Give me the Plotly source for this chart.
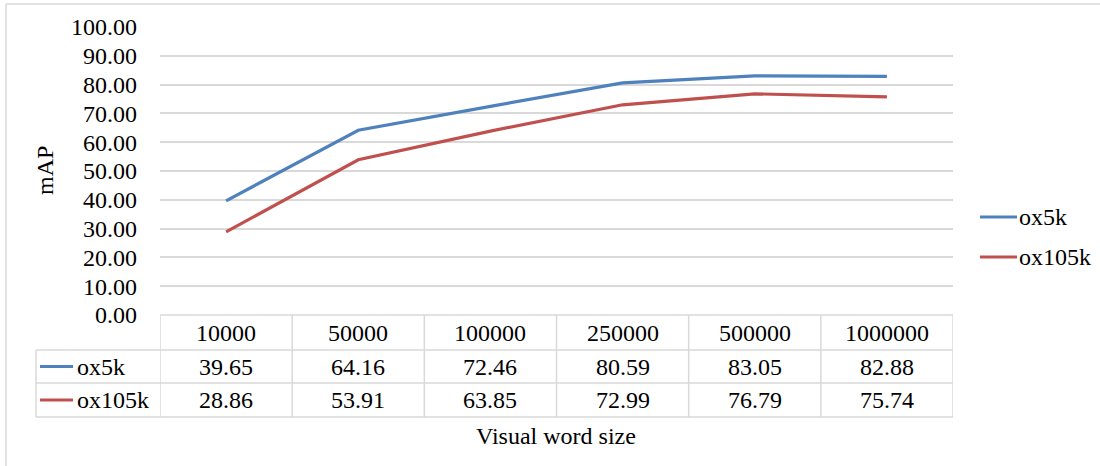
import plotly.graph_objects as go

# Vocabulary sizes and retrieval accuracy (mAP) per dataset
vocab_sizes = ["10000", "50000", "100000", "250000", "500000", "1000000"]
series_names = ["ox5k", "ox105k"]
map_ox5k = [39.65, 64.16, 72.46, 80.59, 83.05, 82.88]
map_ox105k = [28.86, 53.91, 63.85, 72.99, 76.79, 75.74]
y_ticks = [0, 10, 20, 30, 40, 50, 60, 70, 80, 90, 100]

series_values = [map_ox5k, map_ox105k]
colors = ["#4F81BD", "#C0504D"]
grid_color = "#D9D9D9"
font_family = "Liberation Serif, Times New Roman, serif"
fs = 24

W, H = 1100, 466


def px(x):
    return x / W


def py(y):
    return 1 - y / H


# plot area in pixels
X0, X1 = 160, 953
Y_TOP, Y_ZERO = 27, 315

fig = go.Figure()
n = len(vocab_sizes)
xs = list(range(n))
for name, vals, col in zip(series_names, series_values, colors):
    fig.add_trace(go.Scatter(
        x=xs, y=vals, mode="lines", name=name,
        line=dict(color=col, width=3.2), showlegend=False,
        hoverinfo="x+y",
    ))

shapes = []
annotations = []

# outer chart border (top and left edges visible)
shapes.append(dict(type="line", xref="paper", yref="paper",
                   x0=px(6), x1=px(1100), y0=py(4), y1=py(4),
                   line=dict(color=grid_color, width=1.5)))
shapes.append(dict(type="line", xref="paper", yref="paper",
                   x0=px(6), x1=px(6), y0=py(4), y1=py(466),
                   line=dict(color=grid_color, width=1.5)))

# data table under the plot
row_tops = [315, 350, 383, 417]
label_left = 36
# horizontal rules
shapes.append(dict(type="line", xref="paper", yref="paper",
                   x0=px(X0), x1=px(X1), y0=py(row_tops[0]), y1=py(row_tops[0]),
                   line=dict(color=grid_color, width=1.5)))
for yy in row_tops[1:]:
    shapes.append(dict(type="line", xref="paper", yref="paper",
                       x0=px(label_left), x1=px(X1), y0=py(yy), y1=py(yy),
                       line=dict(color=grid_color, width=1.5)))
# vertical rules
shapes.append(dict(type="line", xref="paper", yref="paper",
                   x0=px(label_left), x1=px(label_left), y0=py(row_tops[1]), y1=py(row_tops[3]),
                   line=dict(color=grid_color, width=1.5)))
for i in range(n + 1):
    shapes.append(dict(type="line", xref="x", yref="paper",
                       x0=i - 0.5, x1=i - 0.5, y0=py(row_tops[0]), y1=py(row_tops[3]),
                       line=dict(color=grid_color, width=1.5)))

# header row: category labels
hdr_c = (row_tops[0] + row_tops[1]) / 2
for i, lab in enumerate(vocab_sizes):
    annotations.append(dict(x=i, y=py(hdr_c), xref="x", yref="paper", text=lab,
                            showarrow=False, font=dict(size=fs, color="#000000", family=font_family),
                            xanchor="center", yanchor="middle"))

# value rows with legend keys
for r, (name, vals, col) in enumerate(zip(series_names, series_values, colors)):
    yc = (row_tops[r + 1] + row_tops[r + 2]) / 2
    shapes.append(dict(type="line", xref="paper", yref="paper",
                       x0=px(40), x1=px(73), y0=py(yc), y1=py(yc),
                       line=dict(color=col, width=3.2)))
    annotations.append(dict(x=px(75), y=py(yc), xref="paper", yref="paper", text=name,
                            showarrow=False, font=dict(size=fs, color="#000000", family=font_family),
                            xanchor="left", yanchor="middle"))
    for i, v in enumerate(vals):
        annotations.append(dict(x=i, y=py(yc), xref="x", yref="paper", text=f"{v:.2f}",
                                showarrow=False, font=dict(size=fs, color="#000000", family=font_family),
                                xanchor="center", yanchor="middle"))

# legend on the right
for name, col, yy in zip(series_names, colors, [217, 257]):
    shapes.append(dict(type="line", xref="paper", yref="paper",
                       x0=px(980), x1=px(1017), y0=py(yy), y1=py(yy),
                       line=dict(color=col, width=3.2)))
    annotations.append(dict(x=px(1017), y=py(yy), xref="paper", yref="paper", text=name,
                            showarrow=False, font=dict(size=fs, color="#000000", family=font_family),
                            xanchor="left", yanchor="middle"))

# axis titles
annotations.append(dict(x=px(45), y=py(171), xref="paper", yref="paper", text="mAP",
                        textangle=-90, showarrow=False,
                        font=dict(size=fs, color="#000000", family=font_family),
                        xanchor="center", yanchor="middle"))
annotations.append(dict(x=px(556), y=py(436), xref="paper", yref="paper", text="Visual word size",
                        showarrow=False, font=dict(size=fs, color="#000000", family=font_family),
                        xanchor="center", yanchor="middle"))

fig.update_layout(
    width=W, height=H,
    margin=dict(l=0, r=0, t=0, b=0, pad=0, autoexpand=False),
    paper_bgcolor="#FFFFFF", plot_bgcolor="#FFFFFF",
    font=dict(family=font_family, size=fs, color="#000000"),
    xaxis=dict(domain=[px(X0), px(X1)], range=[-0.5, n - 0.5],
               showticklabels=False, showgrid=False, zeroline=False,
               showline=False, ticks="", automargin=False),
    yaxis=dict(domain=[py(Y_ZERO), py(Y_TOP)], range=[0, 100],
               tickvals=y_ticks, tickformat=".2f",
               showgrid=True, gridcolor=grid_color, gridwidth=1.5,
               zeroline=False, showline=False, ticks="", automargin=False,
               ticklabelstandoff=22,
               tickfont=dict(size=fs, color="#000000", family=font_family)),
    shapes=shapes,
    annotations=annotations,
    showlegend=False,
)

fig.write_html("out.html")
